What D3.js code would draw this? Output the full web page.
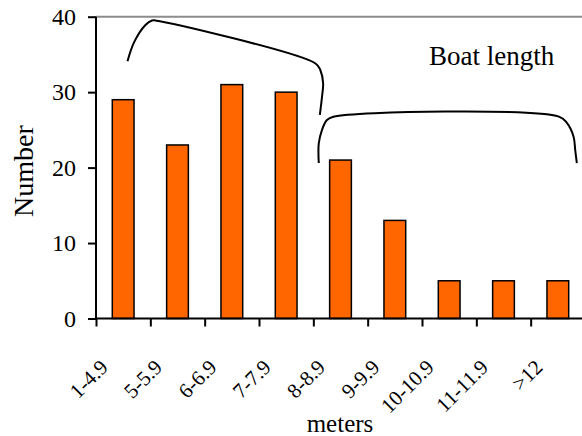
<!DOCTYPE html>
<html>
<head>
<meta charset="utf-8">
<script src="https://cdn.jsdelivr.net/npm/d3@7"></script>
<style>
  html, body { margin: 0; padding: 0; background: #fff; }
  svg { display: block; }
  svg text { font-family: "Liberation Serif", "Times New Roman", serif !important; fill: #000; }
</style>
</head>
<body>
<script>
// ---- data ----
const categories = ["1-4.9", "5-5.9", "6-6.9", "7-7.9", "8-8.9", "9-9.9", "10-10.9", "11-11.9", ">12"];
const counts = [29, 23, 31, 30, 21, 13, 5, 5, 5];
const yTicks = [0, 10, 20, 30, 40];
const yTitle = "Number";
const xTitle = "meters";
const noteText = "Boat length";
// bracket annotations in data units (x: category position, y: count)
const bracket1X = [0.58, 0.70, 0.91, 1.03, 1.09, 4.04, 4.13, 4.18, 4.16, 4.12];
const bracket1Y = [34.1, 36.6, 38.9, 39.5, 39.5, 33.8, 32.9, 31.2, 29.4, 27.0];
const bracket2X = [4.10, 4.10, 4.16, 4.25, 4.37, 8.52, 8.67, 8.79, 8.82, 8.85];
const bracket2Y = [20.6, 23.2, 25.0, 26.3, 26.75, 26.75, 25.9, 24.1, 22.3, 20.6];

// ---- layout ----
const W = 582, H = 436;
const x0 = 96, x1 = 585, yTop = 16.7, yBot = 318.5;
const FONT = "Liberation Serif";

const svg = d3.select("body").append("svg").attr("width", W).attr("height", H)
  .attr("font-family", FONT);

const x = d3.scaleBand().domain(categories).range([x0, x1]).paddingInner(0.6).paddingOuter(0.3);
const xPos = d3.scaleLinear().domain([0, categories.length]).range([x0, x1]);
const y = d3.scaleLinear().domain([0, 40]).range([yBot, yTop]);

// top border of plot area (grey)
svg.append("line")
  .attr("x1", x0).attr("x2", W).attr("y1", y(40)).attr("y2", y(40))
  .attr("stroke", "#8c8c8c").attr("stroke-width", 2);

// bars
svg.append("g").selectAll("rect").data(counts).join("rect")
  .attr("x", (d, i) => x(categories[i]))
  .attr("width", x.bandwidth())
  .attr("y", d => y(d))
  .attr("height", d => y(0) - y(d))
  .attr("fill", "#FF6600")
  .attr("stroke", "#000")
  .attr("stroke-width", 1.5);

// y axis
const yAxis = svg.append("g").attr("transform", `translate(${x0},0)`)
  .call(d3.axisLeft(y).tickValues(yTicks).tickSize(8).tickPadding(12).tickFormat(d3.format("d")));
yAxis.attr("font-family", FONT);
yAxis.select(".domain").attr("stroke", "#000").attr("stroke-width", 2).attr("d", `M0,${yTop}V${yBot}`);
yAxis.selectAll(".tick line").attr("stroke", "#000").attr("stroke-width", 2);
yAxis.selectAll(".tick text").attr("font-size", 24).attr("font-family", FONT).attr("fill", "#000");

// x axis (ticks at category boundaries)
const xAxis = svg.append("g").attr("transform", `translate(0,${yBot})`)
  .call(d3.axisBottom(xPos).tickValues(d3.range(0, categories.length)).tickSize(8).tickFormat(""));
xAxis.select(".domain").attr("stroke", "#000").attr("stroke-width", 2).attr("d", `M${x0},0H${W}`);
xAxis.selectAll(".tick line").attr("stroke", "#000").attr("stroke-width", 2);

// rotated category labels
svg.append("g").selectAll("text").data(categories).join("text")
  .attr("transform", d => `translate(${x(d) + x.bandwidth() / 2 - 14},${yBot + 50}) rotate(-45)`)
  .attr("text-anchor", "end")
  .attr("font-family", FONT)
  .attr("font-size", 21)
  .text(d => d);

// axis titles
svg.append("text")
  .attr("transform", `translate(33,171) rotate(-90)`)
  .attr("text-anchor", "middle")
  .attr("font-family", FONT)
  .attr("font-size", 28)
  .text(yTitle);

svg.append("text")
  .attr("x", 340).attr("y", 432)
  .attr("text-anchor", "middle")
  .attr("font-family", FONT)
  .attr("font-size", 25)
  .text(xTitle);

// annotation text
svg.append("text")
  .attr("x", 429).attr("y", 65)
  .attr("font-family", FONT)
  .attr("font-size", 27)
  .text(noteText);

// brackets
const line = d3.line().x(d => xPos(d[0])).y(d => y(d[1])).curve(d3.curveCatmullRom.alpha(0.5));
[[bracket1X, bracket1Y], [bracket2X, bracket2Y]].forEach(([bx, by]) => {
  svg.append("path")
    .attr("d", line(bx.map((v, i) => [v, by[i]])))
    .attr("fill", "none").attr("stroke", "#000").attr("stroke-width", 2);
});
</script>
</body>
</html>
